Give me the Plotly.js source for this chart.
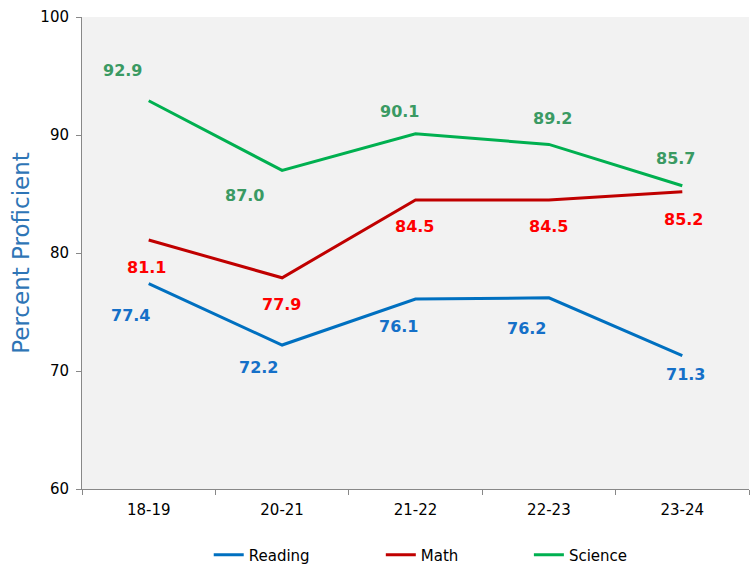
<!DOCTYPE html>
<html>
<head>
<meta charset="utf-8">
<script src="https://cdn.plot.ly/plotly-3.0.1.min.js"></script>
<style>html,body{margin:0;padding:0;background:#fff;}#chart{width:753px;height:565px;}</style>
</head>
<body>
<div id="chart"></div>
<script>
const years = ["18-19", "20-21", "21-22", "22-23", "23-24"];
const reading = [77.4, 72.2, 76.1, 76.2, 71.3];
const math = [81.1, 77.9, 84.5, 84.5, 85.2];
const science = [92.9, 87.0, 90.1, 89.2, 85.7];

const series = [
  {name: "Reading", y: reading, line: "#0070C0", label: "#1570C8", legend: "legend",
   dx: [-18, -24, -17, -22, 3], dy: [-32, -22, -27, -31, -19]},
  {name: "Math", y: math, line: "#C00000", label: "#FF0000", legend: "legend2",
   dx: [-2, -1, -1, 0, 1], dy: [-27, -27, -27, -27, -28]},
  {name: "Science", y: science, line: "#00B050", label: "#3A9A63", legend: "legend3",
   dx: [-26, -38, -16, 4, -7], dy: [30, -25, 22, 26, 27]}
];

const traces = series.map(s => ({
  type: "scatter", mode: "lines", name: s.name,
  x: years, y: s.y, legend: s.legend,
  line: {color: s.line, width: 3},
  hoverinfo: "skip"
}));

const annotations = [];
series.forEach(s => {
  s.y.forEach((v, i) => {
    annotations.push({
      x: years[i], y: v, xref: "x", yref: "y",
      text: v.toFixed(1), showarrow: false,
      xshift: s.dx[i], yshift: s.dy[i],
      font: {family: "DejaVu Sans", size: 16, color: s.label, weight: "bold"}
    });
  });
});

function legendAt(x) {
  return {
    orientation: "h", x: x, xanchor: "left", xref: "paper",
    y: 0.0177, yanchor: "middle", yref: "container",
    font: {family: "DejaVu Sans", size: 15, color: "#000000"},
    bgcolor: "rgba(0,0,0,0)", borderwidth: 0
  };
}

const layout = {
  width: 753, height: 565,
  margin: {l: 82, r: 4, t: 17, b: 76},
  paper_bgcolor: "#FFFFFF",
  plot_bgcolor: "#F2F2F2",
  font: {family: "DejaVu Sans", size: 15, color: "#000000"},
  showlegend: true,
  legend: legendAt(0.190),
  legend2: legendAt(0.448),
  legend3: legendAt(0.670),
  xaxis: {
    type: "category", range: [-0.5, 4.5],
    showgrid: false, zeroline: false,
    showline: true, linecolor: "#888888", linewidth: 1,
    ticks: "outside", tickson: "boundaries", ticklen: 5, tickcolor: "#888888",
    ticklabelstandoff: 7,
    tickfont: {family: "DejaVu Sans", size: 15, color: "#000000"}
  },
  yaxis: {
    range: [60, 100], tickvals: [60, 70, 80, 90, 100],
    showgrid: false, zeroline: false,
    showline: true, linecolor: "#888888", linewidth: 1,
    ticks: "outside", ticklen: 5, tickcolor: "#888888",
    ticklabelstandoff: 4,
    tickfont: {family: "DejaVu Sans", size: 15, color: "#000000"},
    title: {text: "Percent Proficient", standoff: 4,
      font: {family: "DejaVu Sans", size: 23, color: "#2E75B6"}}
  },
  annotations: annotations
};

Plotly.newPlot("chart", traces, layout, {displayModeBar: false, staticPlot: true});
</script>
</body>
</html>
